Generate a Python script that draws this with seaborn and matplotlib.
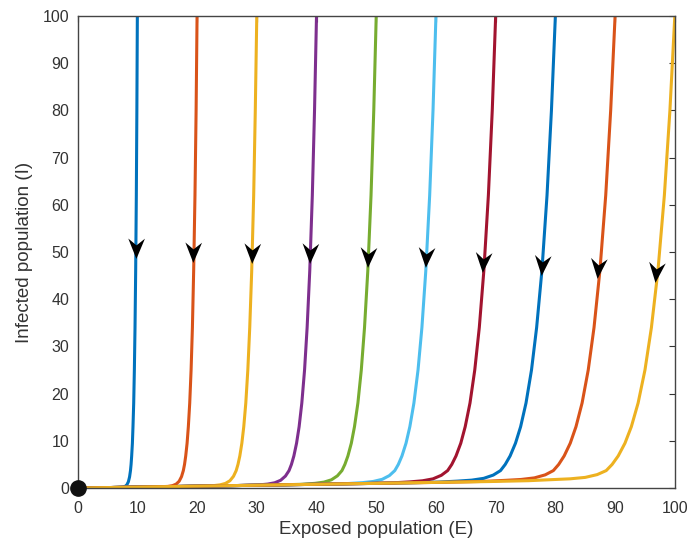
import numpy as np
import pandas as pd
import matplotlib
matplotlib.use("Agg")
import matplotlib.pyplot as plt
from matplotlib.path import Path
from matplotlib.markers import MarkerStyle
from matplotlib.transforms import Affine2D
import seaborn as sns

# Trajectories in the (E, I) phase plane, one per starting value of E
E_start = [10, 20, 30, 40, 50, 60, 70, 80, 90, 100]

E_traj_10 = [10, 9.92, 9.83, 9.72, 9.61, 9.50, 9.39, 9.27, 9.17, 9.05, 8.95, 8.85, 8.70, 8.50, 8.25, 7.95, 7.55, 6.90, 0]
I_traj_10 = [100, 80, 62, 46, 34, 25, 18, 13, 9.5, 6.8, 5.0, 3.7, 2.38, 1.34, 0.70, 0.36, 0.20, 0.14, 0]

E_traj_20 = [20, 19.84, 19.65, 19.43, 19.22, 19.00, 18.77, 18.54, 18.33, 18.10, 17.90, 17.70, 17.40, 17.00, 16.50, 15.90, 15.10, 13.80, 0]
I_traj_20 = [100, 80, 62, 46, 34, 25, 18, 13, 9.5, 6.8, 5.0, 3.7, 2.43, 1.44, 0.84, 0.52, 0.35, 0.28, 0]

E_traj_30 = [30, 29.75, 29.48, 29.15, 28.82, 28.50, 28.16, 27.82, 27.50, 27.16, 26.85, 26.55, 26.10, 25.50, 24.75, 23.85, 22.65, 20.70, 0]
I_traj_30 = [100, 80, 62, 46, 34, 25, 18, 13, 9.5, 6.8, 5.0, 3.7, 2.49, 1.55, 0.98, 0.68, 0.50, 0.41, 0]

E_traj_40 = [40, 39.67, 39.30, 38.87, 38.43, 38.00, 37.54, 37.09, 36.66, 36.21, 35.80, 35.40, 34.80, 34.00, 33.00, 31.80, 30.20, 27.60, 0]
I_traj_40 = [100, 80, 62, 46, 34, 25, 18, 13, 9.5, 6.8, 5.0, 3.7, 2.54, 1.65, 1.12, 0.84, 0.65, 0.55, 0]

E_traj_50 = [50, 49.59, 49.13, 48.59, 48.04, 47.50, 46.93, 46.36, 45.83, 45.26, 44.75, 44.26, 43.50, 42.50, 41.25, 39.75, 37.75, 34.50, 0]
I_traj_50 = [100, 80, 62, 46, 34, 25, 18, 13, 9.5, 6.8, 5.0, 3.7, 2.59, 1.75, 1.26, 1.00, 0.81, 0.69, 0]

E_traj_60 = [60, 59.51, 58.95, 58.30, 57.65, 57.00, 56.31, 55.63, 54.99, 54.31, 53.70, 53.11, 52.20, 51.00, 49.50, 47.70, 45.30, 41.40, 0]
I_traj_60 = [100, 80, 62, 46, 34, 25, 18, 13, 9.5, 6.8, 5.0, 3.7, 2.64, 1.85, 1.40, 1.15, 0.96, 0.83, 0]

E_traj_70 = [70, 69.43, 68.78, 68.02, 67.26, 66.50, 65.70, 64.90, 64.16, 63.36, 62.65, 61.96, 60.90, 59.50, 57.75, 55.65, 52.85, 48.30, 0]
I_traj_70 = [100, 80, 62, 46, 34, 25, 18, 13, 9.5, 6.8, 5.0, 3.7, 2.70, 1.95, 1.54, 1.31, 1.11, 0.97, 0]

E_traj_80 = [80, 79.34, 78.60, 77.74, 76.86, 76.00, 75.08, 74.18, 73.32, 72.42, 71.60, 70.81, 69.60, 68.00, 66.00, 63.60, 60.40, 55.20, 0]
I_traj_80 = [100, 80, 62, 46, 34, 25, 18, 13, 9.5, 6.8, 5.0, 3.7, 2.75, 2.06, 1.68, 1.47, 1.26, 1.10, 0]

E_traj_90 = [90, 89.26, 88.43, 87.45, 86.47, 85.50, 84.47, 83.45, 82.49, 81.47, 80.55, 79.66, 78.30, 76.50, 74.25, 71.55, 67.95, 62.10, 0]
I_traj_90 = [100, 80, 62, 46, 34, 25, 18, 13, 9.5, 6.8, 5.0, 3.7, 2.80, 2.16, 1.82, 1.63, 1.41, 1.24, 0]

E_traj_100 = [100, 99.18, 98.25, 97.17, 96.08, 95.00, 93.85, 92.72, 91.65, 90.52, 89.50, 88.51, 87.00, 85.00, 82.50, 79.50, 75.50, 69.00, 0]
I_traj_100 = [100, 80, 62, 46, 34, 25, 18, 13, 9.5, 6.8, 5.0, 3.7, 2.85, 2.26, 1.96, 1.79, 1.56, 1.38, 0]

# Direction markers along each trajectory
arrow_E = [9.78, 19.4, 29.2, 38.9, 48.7, 58.4, 67.96, 77.7, 87.2, 96.9]
arrow_I = [50.8, 50.1, 49.7, 49.7, 49.0, 49.0, 47.9, 47.2, 46.6, 45.8]

# Equilibrium point
eq_E = [0]
eq_I = [0]

x_ticks = [0, 10, 20, 30, 40, 50, 60, 70, 80, 90, 100]
y_ticks = [0, 10, 20, 30, 40, 50, 60, 70, 80, 90, 100]

line_colors = ["#0072BD", "#D95319", "#EDB120", "#7E2F8E", "#77AC30",
               "#4DBEEE", "#A2142F", "#0072BD", "#D95319", "#EDB120"]

E_all = [E_traj_10, E_traj_20, E_traj_30, E_traj_40, E_traj_50,
         E_traj_60, E_traj_70, E_traj_80, E_traj_90, E_traj_100]
I_all = [I_traj_10, I_traj_20, I_traj_30, I_traj_40, I_traj_50,
         I_traj_60, I_traj_70, I_traj_80, I_traj_90, I_traj_100]

frames = []
for e0, ev, iv in zip(E_start, E_all, I_all):
    frames.append(pd.DataFrame({"E": ev, "I": iv, "start": f"E0={e0}",
                                "step": range(len(ev))}))
df = pd.concat(frames, ignore_index=True)

sns.set_style("white")
plt.rcParams["font.family"] = ["Liberation Sans", "DejaVu Sans"]

fig = plt.figure(figsize=(6.9, 5.49), dpi=100)
ax = fig.add_axes([0.1125, 0.111, 0.8655, 0.860])

hue_order = [f"E0={e0}" for e0 in E_start]
sns.lineplot(data=df, x="E", y="I", hue="start", hue_order=hue_order,
             palette=line_colors, sort=False, estimator=None,
             linewidth=2.2, legend=False, ax=ax)

ax.set_xlim(0, 100)
ax.set_ylim(0, 100)

# Barbed arrowhead pointing down
verts = [(0.0, -1.0), (-0.8, 0.95), (0.0, 0.3), (0.8, 0.95), (0.0, -1.0)]
codes = [Path.MOVETO, Path.LINETO, Path.LINETO, Path.LINETO, Path.CLOSEPOLY]
head = Path(verts, codes)

fig.canvas.draw()
for k in range(len(arrow_E)):
    ev, iv = E_all[k], I_all[k]
    p0 = ax.transData.transform((ev[2], iv[2]))
    p1 = ax.transData.transform((ev[4], iv[4]))
    dx, dy = p1[0] - p0[0], p1[1] - p0[1]
    ang = np.degrees(np.arctan2(dy, dx)) + 90.0
    ms = MarkerStyle(head, transform=Affine2D().rotate_deg(ang))
    ax.plot([arrow_E[k]], [arrow_I[k]], linestyle="none", marker=ms,
            markersize=15, color="black", markeredgewidth=0, zorder=5)

ax.plot(eq_E, eq_I, "o", color="#111111", markersize=11, clip_on=False,
        zorder=10)

ax.set_xticks(x_ticks)
ax.set_yticks(y_ticks)
ax.tick_params(direction="in", length=4, width=0.8, top=True, right=True,
               labelsize=11.5, labelcolor="#333333", color="#333333", pad=6)
ax.tick_params(axis="x", pad=9)
for s in ax.spines.values():
    s.set_visible(True)
    s.set_color("#444444")
    s.set_linewidth(1.0)

ax.set_xlabel("Exposed population (E)", fontsize=13.5, color="#333333", labelpad=4)
ax.set_ylabel("Infected population (I)", fontsize=13.5, color="#333333", labelpad=7)

fig.savefig("out.png", dpi=100, facecolor="white")
